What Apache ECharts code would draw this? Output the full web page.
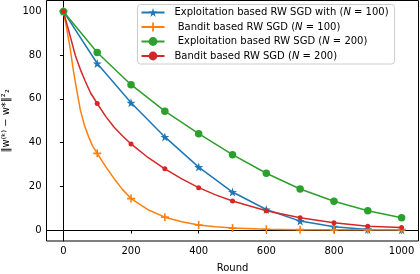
<!DOCTYPE html>
<html>
<head>
<meta charset="utf-8">
<script src="https://cdn.jsdelivr.net/npm/echarts@6/dist/echarts.min.js"></script>
<style>html,body{margin:0;padding:0;background:#fff}#c{width:420px;height:274px}</style>
</head>
<body>
<div id="c"></div>
<script>
// ---- data ----
const xTicks = [0, 200, 400, 600, 800, 1000];
const yTicks = [0, 20, 40, 60, 80, 100];
const seriesNames = [
  'Exploitation based RW SGD with (N = 100)',
  ' Bandit based RW SGD (N = 100)',
  ' Exploitation based RW SGD (N = 200)',
  'Bandit based RW SGD (N = 200)'
];
const roundsExploit = [0, 100, 200, 300, 400, 500, 600, 700, 800, 900, 1000];
const exploit100 = [100, 76.2, 58.2, 42.6, 28.8, 17.4, 9.4, 4.1, 1.5, 0.3, 0.1];
const exploit200 = [100, 81.2, 66.5, 54.4, 44.1, 34.5, 26.0, 18.8, 13.2, 8.8, 5.6];
const roundsBandit100 = [0, 10, 20, 30, 40, 50, 62, 75, 87, 100, 125, 150, 175, 200, 250, 300, 350, 400, 450, 500, 600, 700, 800, 900, 1000];
const bandit100 = [100, 92, 83, 72.5, 63.5, 55, 48, 42.5, 38.3, 35.1, 29, 23.5, 18.5, 14.4, 9.3, 5.9, 3.8, 2.3, 1.5, 0.9, 0.4, 0.2, 0.1, 0.1, 0.1];
const roundsBandit200 = [0, 17, 35, 50, 64, 80, 100, 125, 150, 175, 200, 250, 300, 350, 400, 450, 500, 600, 700, 800, 900, 1000];
const bandit200 = [100, 90.5, 80, 73.5, 68.3, 62.8, 57.9, 52, 47, 43, 39.4, 33.2, 28, 23.4, 19.4, 16.1, 13.3, 8.8, 5.6, 3.3, 1.8, 1.2];

const markerEvery = 100;
function build(xs, ys) {
  return xs.map((x, i) => (x % markerEvery === 0)
    ? { value: [x, ys[i]] }
    : { value: [x, ys[i]], symbol: 'none' });
}

const STAR = 'path://M50,0 L61.8,35.3 L98.1,35.3 L68.7,57.1 L79.4,91.9 L50,70.6 L20.6,91.9 L31.3,57.1 L1.9,35.3 L38.2,35.3 Z';
const PLUS = 'path://M4,0h2v4h4v2h-4v4h-2v-4h-4v-2h4z';

const font = 'DejaVu Sans';
function legendFmt(name) {
  return name.replace('N = ', '{i|N} = ');
}

const chart = echarts.init(document.getElementById('c'), null, { renderer: 'canvas' });
const mk = (name, xs, ys, color, symbol, size) => ({
  name, type: 'line', data: build(xs, ys),
  symbol, symbolSize: size, showSymbol: true,
  smooth: false,
  lineStyle: { color, width: 1.5 },
  itemStyle: { color, borderWidth: 0 },
  emphasis: { disabled: true },
  animation: false, z: 3
});

chart.setOption({
  animation: false,
  grid: { left: 46.5, right: 1.5, top: 0.5, bottom: 33, show: true, borderColor: '#000', borderWidth: 1,
    backgroundColor: 'transparent', containLabel: false, outerBoundsMode: 'none' },
  xAxis: {
    type: 'value', min: -50, max: 1050,
    name: 'Round', nameLocation: 'middle', nameGap: 22,
    nameTextStyle: { fontFamily: font, fontSize: 10, color: '#000' },
    axisLine: { show: true, lineStyle: { color: '#000', width: 1 } },
    axisTick: { show: true, length: 3.5, inside: false, customValues: xTicks, lineStyle: { color: '#000' } },
    axisLabel: { customValues: xTicks, formatter: v => String(v), fontFamily: font, fontSize: 10, color: '#000', margin: 5 },
    splitLine: { show: false }
  },
  yAxis: {
    type: 'value', min: -5, max: 105,
    name: '‖w⁽ᵏ⁾ − w*‖²₂', nameLocation: 'middle', nameRotate: 90, nameGap: 34,
    nameTextStyle: { fontFamily: font, fontSize: 10, color: '#000' },
    axisLine: { show: true, lineStyle: { color: '#000', width: 1 } },
    axisTick: { show: true, length: 3.5, customValues: yTicks, lineStyle: { color: '#000' } },
    axisLabel: { customValues: yTicks, formatter: v => String(v), fontFamily: font, fontSize: 10, color: '#000', margin: 5 },
    splitLine: { show: false }
  },
  legend: {
    orient: 'vertical', left: 137.5, top: 4.5,
    padding: [3, 6, 3, 3], itemGap: 4.5, itemWidth: 23, itemHeight: 11,
    backgroundColor: 'rgba(255,255,255,0.8)', borderColor: '#cccccc', borderWidth: 1, borderRadius: 3,
    formatter: legendFmt,
    textStyle: { fontFamily: font, fontSize: 10, color: '#000', padding: [0, 0, 0, 5],
      rich: { i: { fontFamily: font, fontSize: 10, fontStyle: 'italic', color: '#000' } } },
    data: seriesNames,
    selectedMode: false
  },
  series: [
    mk(seriesNames[0], roundsExploit, exploit100, '#1f77b4', STAR, 9),
    mk(seriesNames[1], roundsBandit100, bandit100, '#ff7f0e', PLUS, 8),
    mk(seriesNames[2], roundsExploit, exploit200, '#2ca02c', 'circle', 7.5),
    mk(seriesNames[3], roundsBandit200, bandit200, '#d62728', 'circle', 5)
  ]
});
</script>
</body>
</html>
